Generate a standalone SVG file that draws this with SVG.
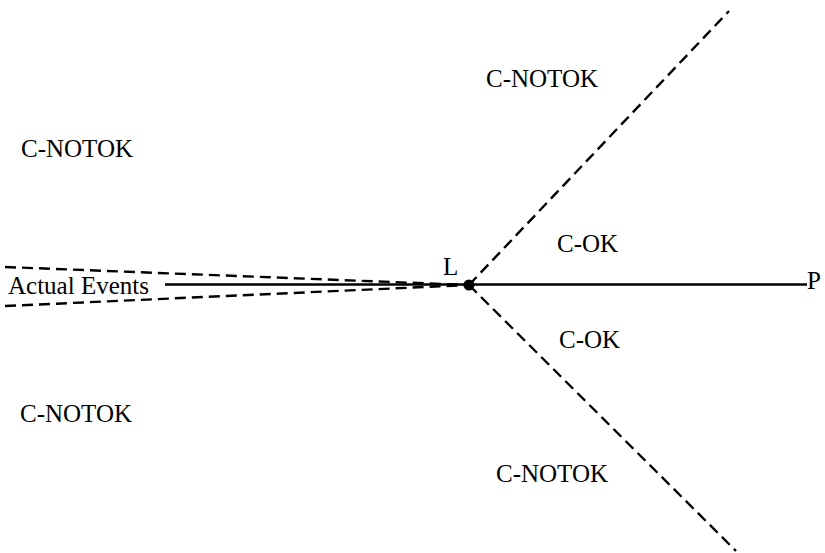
<svg xmlns="http://www.w3.org/2000/svg" width="825" height="553" viewBox="0 0 825 553">
<style>
text{font-family:"Liberation Serif","Times New Roman",serif;font-size:25px;fill:#000}
.dash{stroke:#000;stroke-width:2.4;stroke-dasharray:11 6;fill:none}
.solid{stroke:#000;stroke-width:2.6;fill:none}
</style>
<rect width="825" height="553" fill="#fff"/>
<g id="connectors">
<line class="dash" x1="5" y1="267" x2="469" y2="285"/>
<line class="dash" x1="5" y1="306" x2="469" y2="285"/>
<line class="dash" x1="469" y1="285" x2="729" y2="11"/>
<line class="dash" x1="469" y1="285" x2="736" y2="551"/>
<line class="solid" x1="165" y1="284.5" x2="807" y2="284.5"/>
</g>
<g id="L"><circle cx="469" cy="285" r="5.5" fill="#000"/><text x="443" y="275">L</text></g>
<g id="P"><text x="807" y="289">P</text></g>
<g id="actual"><text x="8" y="294">Actual Events</text></g>
<g id="r1"><text x="486" y="87">C-NOTOK</text></g>
<g id="r2"><text x="21" y="157">C-NOTOK</text></g>
<g id="r3"><text x="557" y="252">C-OK</text></g>
<g id="r4"><text x="559" y="348">C-OK</text></g>
<g id="r5"><text x="20" y="422">C-NOTOK</text></g>
<g id="r6"><text x="496" y="482">C-NOTOK</text></g>
</svg>
